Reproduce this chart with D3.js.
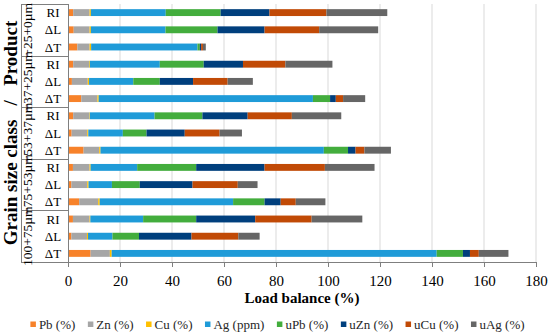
<!DOCTYPE html>
<meta charset="utf-8">
<style>
body { margin: 0; background: white; }
.grid line { stroke: #d9d9d9; }
.frame { stroke: #7f7f7f; fill: none; shape-rendering: crispEdges; }
</style>
<script src="https://d3js.org/d3.v7.min.js"></script>
<body>
<script>

// grain size classes (top to bottom) and products inside each
var groups = ["\u221225+0\u00b5m", "\u221237+25\u00b5m", "\u221253+37\u00b5m", "\u221275+53\u00b5m", "100+75\u00b5m"];
var products = ["RI", "\u0394L", "\u0394T"];

var seriesNames = ["Pb (%)", "Zn (%)", "Cu (%)", "Ag (ppm)", "uPb (%)", "uZn (%)", "uCu (%)", "uAg (%)"];
var colors = ["#f7822a", "#a6a6a6", "#ffc000", "#1f9bd8", "#43ad3d", "#003f7d", "#c14a06", "#666666"];

// one value per bar, bars listed top to bottom
var pb  = [2.0, 2.2, 3.6, 2.0, 1.5, 5.1, 2.0, 1.4, 6.0, 1.9, 1.3, 4.3, 1.9, 1.3, 8.7];
var zn  = [6.3, 6.1, 4.7, 6.1, 6.1, 6.2, 6.2, 6.0, 6.0, 6.4, 6.1, 7.3, 6.4, 6.0, 7.4];
var cu  = [0.5, 0.5, 0.6, 0.3, 0.5, 0.5, 0.2, 0.4, 0.5, 0.4, 0.5, 0.6, 0.3, 0.4, 0.7];
var ag  = [28.8, 28.7, 40.9, 26.9, 17.0, 82.4, 24.9, 13.3, 85.9, 17.9, 9.0, 51.3, 20.3, 9.4, 125.0];
var upb = [21.1, 20.0, 0.9, 16.9, 10.2, 6.6, 18.4, 9.1, 9.3, 22.7, 10.7, 12.1, 20.4, 10.2, 10.1];
var uzn = [18.8, 18.1, 0.5, 15.1, 12.8, 2.2, 17.4, 14.7, 2.9, 26.3, 20.3, 6.2, 22.7, 20.2, 2.7];
var ucu = [21.9, 21.0, 0.7, 16.3, 13.3, 2.8, 17.0, 13.4, 3.4, 23.2, 17.4, 5.8, 21.7, 18.0, 3.4];
var uag = [23.4, 22.7, 1.1, 18.1, 9.7, 8.5, 19.0, 8.6, 10.2, 19.1, 7.6, 11.4, 19.5, 8.2, 11.4];

var xTicks = [0, 20, 40, 60, 80, 100, 120, 140, 160, 180];

var allSeries = [pb, zn, cu, ag, upb, uzn, ucu, uag];
var serif = '"Liberation Serif", "Times New Roman", serif';

// build rows for d3.stack
var rows = [];
groups.forEach(function(g, gi) {
  products.forEach(function(p, pi) {
    var i = gi * products.length + pi;
    var r = {key: g + "|" + p, group: g, product: p};
    seriesNames.forEach(function(s, si) { r[s] = allSeries[si][i]; });
    rows.push(r);
  });
});

var W = 550, H = 334;
var plotLeft = 68, plotRight = 536, plotTop = 4, plotBottom = 262, catLeft = 21;

var svg = d3.select("body").append("svg")
    .attr("width", W)
    .attr("height", H);

var x = d3.scaleLinear().domain([0, 180]).range([plotLeft, plotRight]);
var y = d3.scaleBand()
    .domain(rows.map(function(d) { return d.key; }))
    .range([plotTop, plotBottom])
    .paddingInner(0.6)
    .paddingOuter(0.3);
var color = d3.scaleOrdinal().domain(seriesNames).range(colors);

// vertical gridlines
svg.append("g")
    .attr("class", "grid")
  .selectAll("line")
    .data(xTicks.slice(1))
  .enter().append("line")
    .attr("x1", function(d) { return x(d); })
    .attr("x2", function(d) { return x(d); })
    .attr("y1", plotTop)
    .attr("y2", plotBottom);

// bars
var stack = d3.stack().keys(seriesNames);
svg.append("g").selectAll("g")
    .data(stack(rows))
  .enter().append("g")
    .attr("fill", function(d) { return color(d.key); })
  .selectAll("rect")
    .data(function(d) { return d; })
  .enter().append("rect")
    .attr("x", function(d) { return x(d[0]); })
    .attr("width", function(d) { return x(d[1]) - x(d[0]); })
    .attr("y", function(d) { return y(d.data.key); })
    .attr("height", y.bandwidth());

// x axis
var xAxis = svg.append("g")
    .attr("transform", "translate(0," + plotBottom + ")")
    .call(d3.axisBottom(x).tickValues(xTicks).tickSize(5).tickPadding(8));
xAxis.select(".domain").remove();
xAxis.selectAll(".tick line").attr("stroke", "#7f7f7f");
xAxis.selectAll(".tick text")
    .attr("fill", "#000")
    .style("font-family", serif)
    .style("font-size", "15px");

// axis frame: bottom line, y axis, category level lines
var step = y.step() * products.length;
svg.append("line").attr("class", "frame")
    .attr("x1", catLeft).attr("x2", plotRight).attr("y1", plotBottom + 0.5).attr("y2", plotBottom + 0.5);
svg.append("line").attr("class", "frame")
    .attr("x1", plotLeft).attr("x2", plotLeft).attr("y1", plotTop).attr("y2", plotBottom);
svg.append("line").attr("class", "frame")
    .attr("x1", catLeft).attr("x2", catLeft).attr("y1", plotTop).attr("y2", plotBottom);
svg.selectAll(".sep")
    .data(d3.range(groups.length))
  .enter().append("line")
    .attr("class", "frame")
    .attr("x1", catLeft).attr("x2", plotLeft)
    .attr("y1", function(i) { return Math.round(plotTop + i * step) + 0.5; })
    .attr("y2", function(i) { return Math.round(plotTop + i * step) + 0.5; });

// product labels
svg.selectAll(".prod")
    .data(rows)
  .enter().append("text")
    .attr("x", 53)
    .attr("y", function(d) { return y(d.key) + y.bandwidth() / 2; })
    .attr("dy", "0.35em")
    .attr("text-anchor", "middle")
    .style("font-family", serif)
    .style("font-size", "13px")
    .text(function(d) { return d.product; });

// grain size class labels
svg.selectAll(".grp")
    .data(groups)
  .enter().append("text")
    .attr("transform", function(d, i) {
      return "translate(32," + (plotTop + (i + 0.5) * step) + ") rotate(-90)";
    })
    .attr("text-anchor", "middle")
    .style("font-family", serif)
    .style("font-size", "13.5px")
    .text(function(d) { return d; });

// axis titles
svg.append("text")
    .attr("transform", "translate(17," + (plotTop + plotBottom) / 2 + ") rotate(-90)")
    .attr("text-anchor", "middle")
    .style("font-family", serif)
    .style("font-size", "19px")
    .style("font-weight", "bold")
    .style("white-space", "pre")
    .text("Grain size class   /   Product");

svg.append("text")
    .attr("x", (plotLeft + plotRight) / 2)
    .attr("y", 303)
    .attr("text-anchor", "middle")
    .style("font-family", serif)
    .style("font-size", "15px")
    .style("font-weight", "bold")
    .text("Load balance (%)");

// legend
var legend = svg.append("g");
var items = legend.selectAll("g")
    .data(seriesNames)
  .enter().append("g");
items.append("rect")
    .attr("width", 5.5)
    .attr("height", 5.5)
    .attr("y", -7)
    .attr("fill", function(d) { return color(d); });
items.append("text")
    .attr("x", 8.5)
    .style("font-family", serif)
    .style("font-size", "13px")
    .style("fill", "#262626")
    .text(function(d) { return d; });
var pos = 0;
items.each(function() {
  d3.select(this).attr("transform", "translate(" + pos + ",0)");
  pos += 8.5 + this.querySelector("text").getComputedTextLength() + 12.5;
});
pos -= 12.5;
legend.attr("transform", "translate(" + (277.5 - pos / 2) + ",328.5)");

</script>
